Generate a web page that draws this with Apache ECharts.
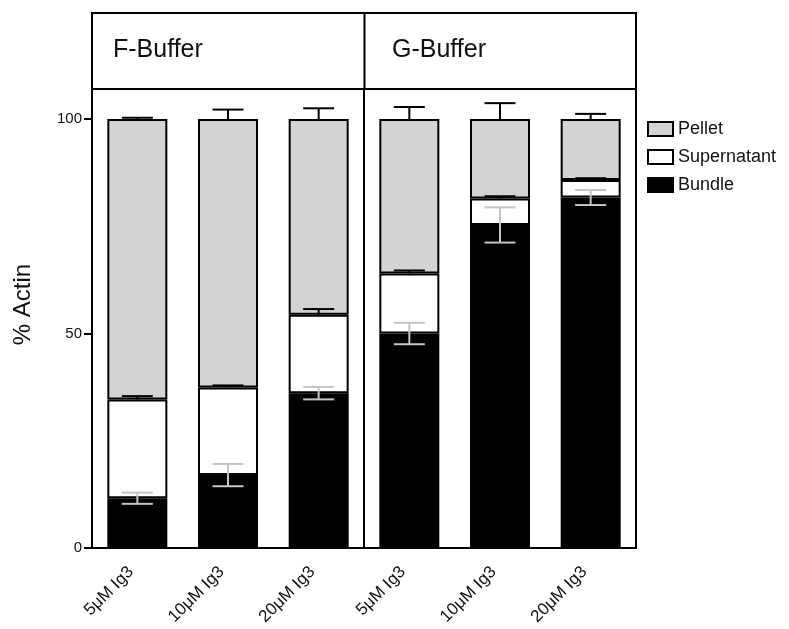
<!DOCTYPE html>
<html>
<head>
<meta charset="utf-8">
<script src="https://cdn.jsdelivr.net/npm/echarts@6/dist/echarts.min.js"></script>
<style>
  html, body { margin: 0; padding: 0; background: #fff; }
  #chart { width: 789px; height: 629px; }
</style>
</head>
<body>
<div id="chart"></div>
<script>
// Conditions along the x axis (first three: F-Buffer, last three: G-Buffer)
const categories = ['5\u03bcM Ig3', '10\u03bcM Ig3', '20\u03bcM Ig3', '5\u03bcM Ig3', '10\u03bcM Ig3', '20\u03bcM Ig3'];
const panelTitles = ['F-Buffer', 'G-Buffer'];
// index of the first category of the second panel
const panelSplit = [3];

// % actin in each fraction (stacked: bundle, supernatant, pellet)
const bundle      = [11.6, 17.0, 36.1, 50.0, 75.3, 81.7];
const supernatant = [23.0, 20.4, 18.3, 14.0, 6.2, 4.1];
const pellet      = [65.4, 62.6, 45.6, 36.0, 18.5, 14.2];

// error bar half-lengths for each fraction
const bundleErr      = [1.3, 2.6, 1.45, 2.5, 4.1, 1.75];
const supernatantErr = [0.8, 0.5, 1.3, 0.7, 0.5, 0.4];
const pelletErr      = [0.3, 2.2, 2.5, 2.8, 3.7, 1.2];

const yTicks = [0, 50, 100];

const FONT = 'Liberation Sans, Arial, Helvetica, sans-serif';
const chart = echarts.init(document.getElementById('chart'));

// error bar rows: [category index, stacked top of the segment, error]
const bundleErrRows = bundle.map((v, i) => [i, v, bundleErr[i]]);
const supErrRows = supernatant.map((v, i) => [i, bundle[i] + v, supernatantErr[i]]);
const pelletErrRows = pellet.map((v, i) => [i, bundle[i] + supernatant[i] + v, pelletErr[i]]);

function errorBar(twoSided, color) {
  return function (params, api) {
    const i = api.value(0), top = api.value(1), e = api.value(2);
    const hi = api.coord([i, top + e]);
    const lo = api.coord([i, twoSided ? top - e : top]);
    const half = 15.5;
    const st = { stroke: color, lineWidth: 2 };
    const children = [
      { type: 'line', shape: { x1: hi[0], y1: hi[1], x2: lo[0], y2: lo[1] }, style: st },
      { type: 'line', shape: { x1: hi[0] - half, y1: hi[1], x2: hi[0] + half, y2: hi[1] }, style: st }
    ];
    if (twoSided) {
      children.push({ type: 'line', shape: { x1: lo[0] - half, y1: lo[1], x2: lo[0] + half, y2: lo[1] }, style: st });
    }
    return { type: 'group', children: children };
  };
}

// vertical rule on the band edge left of a category, spanning the whole plot height
function panelDivider(params, api) {
  const idx = api.value(0);
  const band = api.size([1, 0])[0];
  const bottom = api.coord([idx, 0]);
  const x = bottom[0] - band / 2;
  const cs = params.coordSys;
  return {
    type: 'line',
    shape: { x1: x, y1: cs.y, x2: x, y2: cs.y + cs.height },
    style: { stroke: '#000', lineWidth: 2 }
  };
}

const barBase = {
  type: 'bar', stack: 'actin', barWidth: 60,
  emphasis: { disabled: true }
};

chart.setOption({
  animation: false,
  grid: {
    left: 92, right: 153, top: 89, bottom: 81,
    show: true, borderColor: '#000', borderWidth: 2
  },
  legend: {
    orient: 'vertical', left: 642, top: 115,
    itemWidth: 25, itemHeight: 14, itemGap: 10,
    icon: 'rect',
    data: ['Pellet', 'Supernatant', 'Bundle'],
    textStyle: { fontFamily: FONT, fontSize: 18, color: '#111' }
  },
  xAxis: {
    type: 'category', data: categories,
    axisLine: { lineStyle: { color: '#000', width: 2 } },
    axisTick: { alignWithLabel: true, length: 6, lineStyle: { color: '#000', width: 2 } },
    axisLabel: { rotate: 45, fontFamily: FONT, fontSize: 17, color: '#111', margin: 15,
      padding: [0, 9, 0, 0], interval: 0 }
  },
  yAxis: {
    type: 'value', min: 0, max: 107, interval: 50,
    name: '% Actin', nameLocation: 'middle', nameGap: 57, nameRotate: 90,
    nameTextStyle: { fontFamily: FONT, fontSize: 24, color: '#111', padding: [0, 0, 0, 28] },
    axisLine: { show: true, lineStyle: { color: '#000', width: 2 } },
    axisTick: { show: true, length: 8, customValues: yTicks, lineStyle: { color: '#000', width: 2 } },
    axisLabel: { customValues: yTicks, fontFamily: FONT, fontSize: 15, color: '#111', margin: 10 },
    splitLine: { show: false }
  },
  graphic: [
    { type: 'rect', shape: { x: 92, y: 13, width: 544, height: 76 }, style: { fill: 'none', stroke: '#000', lineWidth: 2 } },
    { type: 'line', shape: { x1: 364.5, y1: 13, x2: 364.5, y2: 89 }, style: { stroke: '#000', lineWidth: 2 } },
    { type: 'text', left: 113, top: 38, style: { text: panelTitles[0], fontFamily: FONT, fontSize: 25, fill: '#111' } },
    { type: 'text', left: 392, top: 38, style: { text: panelTitles[1], fontFamily: FONT, fontSize: 25, fill: '#111' } }
  ],
  series: [
    Object.assign({}, barBase, { name: 'Bundle', data: bundle,
      itemStyle: { color: '#000', borderColor: '#000', borderWidth: 2 } }),
    Object.assign({}, barBase, { name: 'Supernatant', data: supernatant,
      itemStyle: { color: '#fff', borderColor: '#000', borderWidth: 2 } }),
    Object.assign({}, barBase, { name: 'Pellet', data: pellet,
      itemStyle: { color: '#d3d3d3', borderColor: '#000', borderWidth: 2 } }),
    { type: 'custom', name: 'bundleErr', z: 5, data: bundleErrRows, encode: { x: 0, y: 1 },
      renderItem: errorBar(true, '#c4c4c4') },
    { type: 'custom', name: 'supErr', z: 5, data: supErrRows, encode: { x: 0, y: 1 },
      renderItem: errorBar(false, '#000') },
    { type: 'custom', name: 'pelletErr', z: 5, data: pelletErrRows, encode: { x: 0, y: 1 },
      renderItem: errorBar(false, '#000') },
    { type: 'custom', name: 'divider', z: 6, silent: true, data: panelSplit.map(i => [i]),
      encode: { x: 0 }, renderItem: panelDivider }
  ]
});
</script>
</body>
</html>
